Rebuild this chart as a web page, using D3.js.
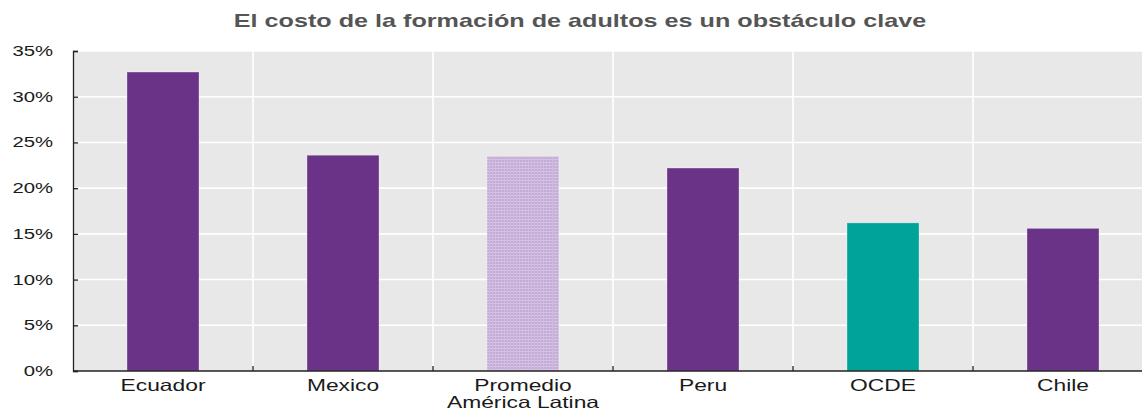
<!DOCTYPE html>
<html>
<head>
<meta charset="utf-8">
<script src="https://cdn.jsdelivr.net/npm/d3@7/dist/d3.min.js"></script>
<style>
	html, body { margin: 0; padding: 0; background: #fff; }
	svg { display: block; font-family: "Liberation Sans", Arial, sans-serif; }
</style>
</head>
<body>
<svg id="chart"></svg>
<script>
// data
var categories = ["Ecuador", "Mexico", "Promedio\nAmérica Latina", "Peru", "OCDE", "Chile"];
var values = [32.7, 23.6, 23.5, 22.2, 16.2, 15.6];
var yTicks = [0, 5, 10, 15, 20, 25, 30, 35];
var title = "El costo de la formación de adultos es un obstáculo clave";

var width = 1142, height = 412;
// the source picture is stretched sideways, so text gets a horizontal scale
var sx = 1.4;
var margin = {top: 51, left: 73, bottom: 41};
var bandWidth = 180;

var fills = {
	"Promedio\nAmérica Latina": "url(#lat)",
	"OCDE": "#00a398"
};
var defaultFill = "#6a3388";

var svg = d3.select("#chart")
	.attr("width", width)
	.attr("height", height);

// fine woven pattern for the Latin American average
var pat = svg.append("defs").append("pattern")
	.attr("id", "lat")
	.attr("patternUnits", "userSpaceOnUse")
	.attr("width", 3)
	.attr("height", 3);
pat.append("rect").attr("width", 3).attr("height", 3).attr("fill", "#c3aad7");
pat.append("rect").attr("width", 3).attr("height", 1).attr("fill", "#d6c4e4");
pat.append("rect").attr("width", 1).attr("height", 3).attr("fill", "#d0bce0");

var x = d3.scaleBand()
	.domain(categories)
	.range([margin.left, margin.left + bandWidth * categories.length])
	.padding(0);

var y = d3.scaleLinear()
	.domain([0, 35])
	.range([height - margin.bottom, margin.top]);

var right = width;

// plot background
svg.append("rect")
	.attr("x", margin.left)
	.attr("y", y(35))
	.attr("width", right - margin.left)
	.attr("height", y(0) - y(35))
	.attr("fill", "#e8e8e8");

// horizontal grid
svg.append("g").selectAll("line")
	.data(yTicks.filter(function(d) { return d > 0; }))
	.join("line")
	.attr("x1", margin.left)
	.attr("x2", right)
	.attr("y1", function(d) { return y(d); })
	.attr("y2", function(d) { return y(d); })
	.attr("stroke", "#fff")
	.attr("stroke-width", 1.6);

// vertical grid at category boundaries
svg.append("g").selectAll("line")
	.data(categories.slice(1))
	.join("line")
	.attr("x1", function(d) { return x(d); })
	.attr("x2", function(d) { return x(d); })
	.attr("y1", y(35))
	.attr("y2", y(0))
	.attr("stroke", "#fff")
	.attr("stroke-width", 1.6);

// bars
var barW = x.bandwidth() * 0.4;
svg.append("g").selectAll("rect")
	.data(categories)
	.join("rect")
	.attr("x", function(d) { return x(d) + (x.bandwidth() - barW) / 2; })
	.attr("y", function(d, i) { return y(values[i]); })
	.attr("width", barW)
	.attr("height", function(d, i) { return y(0) - y(values[i]); })
	.attr("fill", function(d) { return fills[d] || defaultFill; })
	.attr("stroke", "rgba(255,255,255,0.3)")
	.attr("stroke-width", 1);

// y axis
var yAxis = svg.append("g")
	.attr("transform", "translate(" + margin.left + ",0)")
	.call(d3.axisRight(y).tickValues(yTicks).tickSize(5).tickFormat(""));
yAxis.select(".domain").attr("stroke", "#222").attr("stroke-width", 1.3);
yAxis.selectAll(".tick line").attr("stroke", "#222").attr("stroke-width", 1.3);

svg.append("g").selectAll("text")
	.data(yTicks)
	.join("text")
	.attr("transform", function(d) { return "translate(53," + (y(d) + 5) + ") scale(" + sx + ",1)"; })
	.attr("text-anchor", "end")
	.attr("font-size", 14.5)
	.attr("fill", "#1a1a1a")
	.text(function(d) { return d + "%"; });

// x axis line and inward ticks
svg.append("line")
	.attr("x1", margin.left)
	.attr("x2", right)
	.attr("y1", y(0))
	.attr("y2", y(0))
	.attr("stroke", "#222")
	.attr("stroke-width", 1.3);

svg.append("g").selectAll("line")
	.data(categories.slice(1))
	.join("line")
	.attr("x1", function(d) { return x(d); })
	.attr("x2", function(d) { return x(d); })
	.attr("y1", y(0))
	.attr("y2", y(0) - 5)
	.attr("stroke", "#222")
	.attr("stroke-width", 1.3);

// category labels
var lab = svg.append("g").selectAll("text")
	.data(categories)
	.join("text")
	.attr("transform", function(d) { return "translate(" + (x(d) + x.bandwidth() / 2) + "," + (y(0) + 20) + ") scale(" + sx + ",1)"; })
	.attr("text-anchor", "middle")
	.attr("font-size", 16.3)
	.attr("fill", "#1a1a1a");
lab.selectAll("tspan")
	.data(function(d) { return d.split("\n"); })
	.join("tspan")
	.attr("x", 0)
	.attr("dy", function(d, i) { return i ? 17 : 0; })
	.text(function(d) { return d; });

// title
svg.append("text")
	.attr("transform", "translate(580,27) scale(" + sx + ",1)")
	.attr("text-anchor", "middle")
	.attr("font-size", 18)
	.attr("font-weight", "bold")
	.attr("fill", "#555")
	.text(title);
</script>
</body>
</html>
